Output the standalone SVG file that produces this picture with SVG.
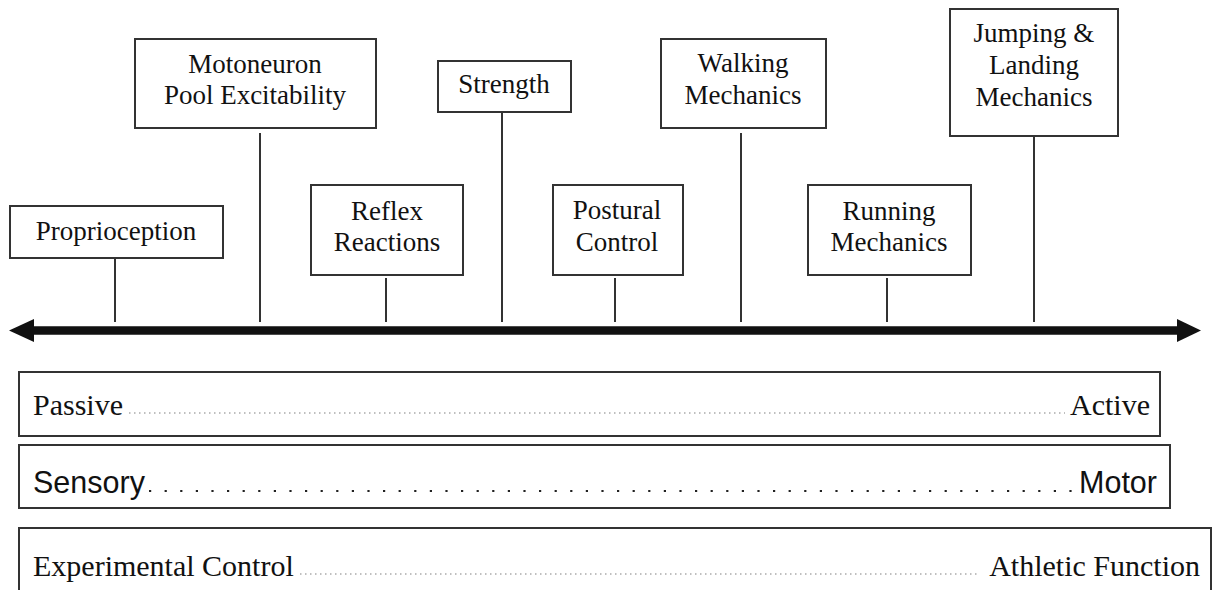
<svg xmlns="http://www.w3.org/2000/svg" width="1212" height="590" viewBox="0 0 1212 590">
<style>
.box{fill:#fff;stroke:#333;stroke-width:2}
.t{font-family:"Liberation Serif","Times New Roman",serif;font-size:27px;fill:#111;text-anchor:middle}
.b{font-family:"Liberation Serif","Times New Roman",serif;font-size:30px;fill:#111}
.s{font-family:"Liberation Sans",Arial,sans-serif;font-size:30.5px;fill:#111}
.con{stroke:#333;stroke-width:2;fill:none}
.lead{stroke:#aaa;stroke-width:1.5;stroke-dasharray:1.5 3.5;fill:none}
.lead2{stroke:#222;stroke-width:2.2;stroke-dasharray:2.2 13.4;fill:none}
</style>
<rect width="1212" height="590" fill="#fff"/>
<g id="connectors">
<line class="con" x1="115" y1="258" x2="115" y2="322"/>
<line class="con" x1="260" y1="133" x2="260" y2="322"/>
<line class="con" x1="386" y1="278" x2="386" y2="322"/>
<line class="con" x1="502" y1="112" x2="502" y2="322"/>
<line class="con" x1="615" y1="278" x2="615" y2="322"/>
<line class="con" x1="741" y1="133" x2="741" y2="322"/>
<line class="con" x1="887" y1="278" x2="887" y2="322"/>
<line class="con" x1="1034" y1="133" x2="1034" y2="322"/>
</g>
<g id="axis">
<line x1="30" y1="330.5" x2="1182" y2="330.5" stroke="#111" stroke-width="8.5"/>
<polygon points="9,330.5 34,319 34,342" fill="#111"/>
<polygon points="1201,330.5 1177,319 1177,342" fill="#111"/>
</g>
<g id="proprioception">
<rect class="box" x="10" y="206" width="213" height="52"/>
<text class="t" x="116" y="240">Proprioception</text>
</g>
<g id="motoneuron">
<rect class="box" x="135" y="39" width="241" height="89"/>
<text class="t" x="255" y="73">Motoneuron</text>
<text class="t" x="255" y="104">Pool Excitability</text>
</g>
<g id="reflex">
<rect class="box" x="311" y="185" width="152" height="90"/>
<text class="t" x="387" y="220">Reflex</text>
<text class="t" x="387" y="251">Reactions</text>
</g>
<g id="strength">
<rect class="box" x="438" y="61" width="133" height="51"/>
<text class="t" x="504" y="93">Strength</text>
</g>
<g id="postural">
<rect class="box" x="553" y="185" width="130" height="90"/>
<text class="t" x="617" y="219">Postural</text>
<text class="t" x="617" y="251">Control</text>
</g>
<g id="walking">
<rect class="box" x="661" y="39" width="165" height="89"/>
<text class="t" x="743" y="72">Walking</text>
<text class="t" x="743" y="104">Mechanics</text>
</g>
<g id="running">
<rect class="box" x="808" y="185" width="163" height="90"/>
<text class="t" x="889" y="220">Running</text>
<text class="t" x="889" y="251">Mechanics</text>
</g>
<g id="jumping">
<rect class="box" x="950" y="9" width="168" height="127"/>
<text class="t" x="1034" y="42">Jumping &amp;</text>
<text class="t" x="1034" y="74">Landing</text>
<text class="t" x="1034" y="106">Mechanics</text>
</g>
<g id="passive-active">
<rect class="box" x="19" y="372" width="1141" height="64"/>
<text class="b" x="33" y="415">Passive</text>
<line class="lead" x1="129" y1="413" x2="1065" y2="413"/>
<text class="b" x="1150" y="415" text-anchor="end">Active</text>
</g>
<g id="sensory-motor">
<rect class="box" x="19" y="445" width="1151" height="63"/>
<text class="s" x="33" y="493">Sensory</text>
<line class="lead2" x1="149" y1="491" x2="1075" y2="491"/>
<text class="s" x="1157" y="493" text-anchor="end">Motor</text>
</g>
<g id="control-function">
<rect class="box" x="19" y="528" width="1192" height="70"/>
<text class="b" x="33" y="576">Experimental Control</text>
<line class="lead" x1="300" y1="574" x2="980" y2="574"/>
<text class="b" x="1200" y="576" text-anchor="end">Athletic Function</text>
</g>
</svg>
